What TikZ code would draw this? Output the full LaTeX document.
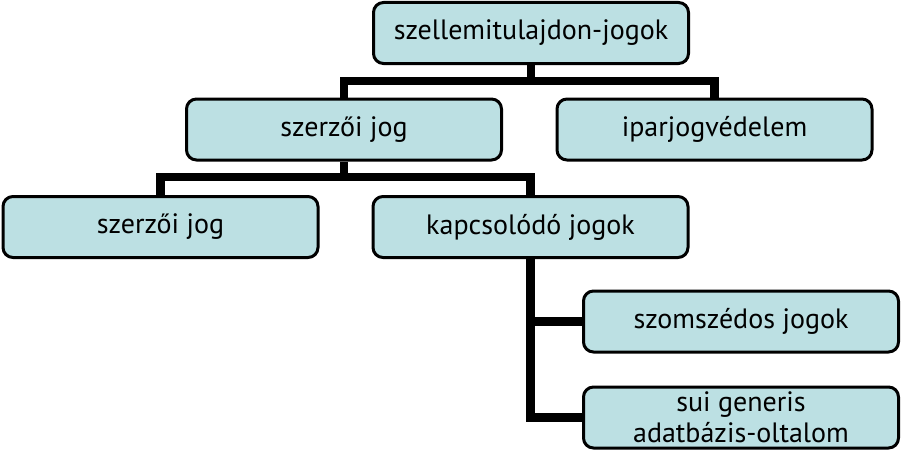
\documentclass[tikz,border=0pt]{standalone}
\usepackage{fontspec}
\setmainfont{PT Sans}
\definecolor{boxfill}{RGB}{188,224,227}

\begin{document}
\begin{tikzpicture}[x=1pt,y=-1pt,
  box/.style={draw,line width=3pt,fill=boxfill,rounded corners=10pt,
    minimum width=315pt,minimum height=61pt,align=center,
    font=\fontsize{28}{31}\selectfont,inner sep=1pt},
  conn/.style={line width=8.5pt}]
\useasboundingbox (0,0) rectangle (901,452);

\node[box] (root) at (531,33) {szellemitulajdon-jogok};
\node[box] (szerzoi) at (344,129.5) {szerzői jog};
\node[box] (ipar) at (714.5,129.5) {iparjogvédelem};
\node[box] (szerzoijog) at (160.5,227) {szerzői jog};
\node[box] (kapcs) at (530.5,227) {kapcsolódó jogok};
\node[box] (szomszed) at (741,321.5) {szomszédos jogok};
\node[box] (sui) at (741,417.5) {sui generis\\adatbázis-oltalom};

\coordinate (bar1) at (531,81);
\coordinate (bar2) at (344,177);

\draw[conn] (root.south) -- (bar1) -| (szerzoi.north);
\draw[conn] (bar1) -| (ipar.north);
\draw[conn] (szerzoi.south) -- (bar2) -| (szerzoijog.north);
\draw[conn] (bar2) -| (kapcs.north);
\draw[conn] (kapcs.south) |- (szomszed.west);
\draw[conn] (kapcs.south) |- (sui.west);
\end{tikzpicture}
\end{document}
